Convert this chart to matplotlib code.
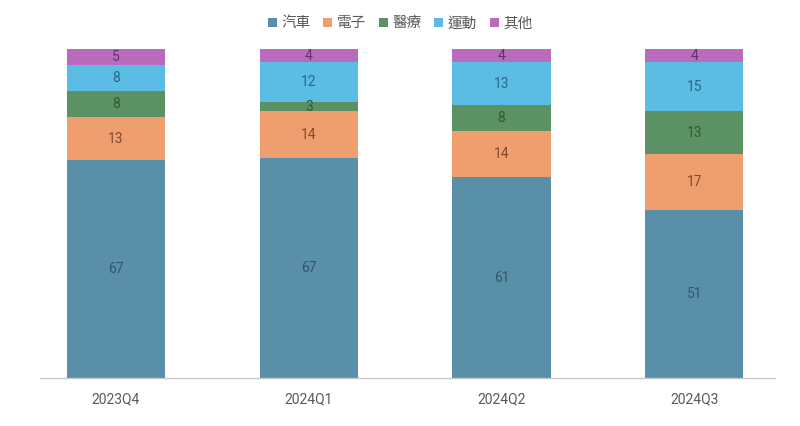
import matplotlib
matplotlib.use('Agg')
import matplotlib.pyplot as plt
from matplotlib.patches import Patch
import numpy as np

plt.rcParams['font.family'] = ['Roboto', 'Noto Sans CJK TC', 'DejaVu Sans']

quarters = ['2023Q4', '2024Q1', '2024Q2', '2024Q3']
series = ['汽車', '電子', '醫療', '運動', '其他']
car = [67, 67, 61, 51]
elec = [13, 14, 14, 17]
medical = [8, 3, 8, 13]
sport = [8, 12, 13, 15]
other = [5, 4, 4, 4]

colors = ['#5a8fa9', '#ef9f6f', '#5c9263', '#5bbce4', '#b96cbd']
label_colors = ['#34566a', '#834a2c', '#305a38', '#2a6888', '#66306a']

fig = plt.figure(figsize=(8, 4.26), dpi=100)
ax = fig.add_axes([0.05, 0.1127, 0.919, 0.7723])

data = np.array([car, elec, medical, sport, other], dtype=float)
totals = data.sum(axis=0)
x = np.arange(len(quarters))
bottom = np.zeros(len(quarters))
for vals, c, lc in zip(data, colors, label_colors):
    h = vals / totals * 100  # 100% stacked
    ax.bar(x, h, 0.51, bottom=bottom, color=c, linewidth=0)
    for xi, b, hh, v in zip(x, bottom, h, vals):
        ax.text(xi, b + hh / 2, f'{int(v)}', ha='center', va='center',
                fontsize=10, color=lc)
    bottom += h

ax.set_xlim(-0.394, 3.42)
ax.set_ylim(0, 100)
ax.set_yticks([])
ax.set_xticks(x)
ax.set_xticklabels(quarters, fontsize=10, color='#595959')
ax.tick_params(axis='x', length=0, pad=10)
for s in ['top', 'right', 'left']:
    ax.spines[s].set_visible(False)
ax.spines['bottom'].set_color('#c8c8c8')
ax.spines['bottom'].set_linewidth(1)

handles = [Patch(facecolor=c, linewidth=0) for c in colors]
fig.legend(handles, series, loc='center', bbox_to_anchor=(0.5, 0.945), ncol=5,
           frameon=False, fontsize=10.5, handlelength=0.6, handleheight=0.6,
           handletextpad=0.3, columnspacing=0.9, labelcolor='#595959')

fig.savefig('out.png', dpi=100)
